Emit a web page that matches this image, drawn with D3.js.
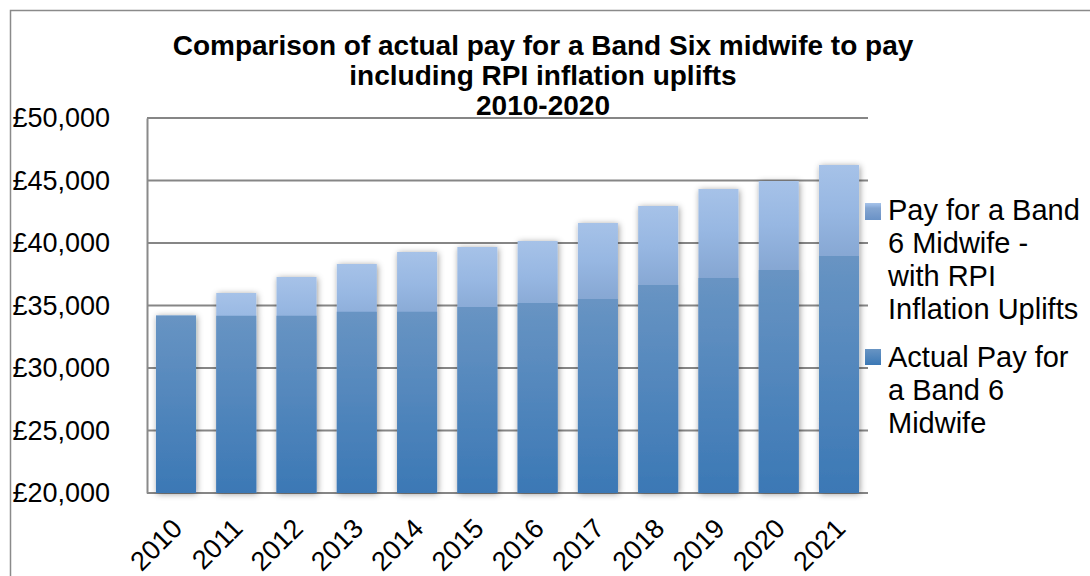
<!DOCTYPE html>
<html><head><meta charset="utf-8">
<script src="https://cdn.jsdelivr.net/npm/d3@7"></script>
<style>
body{margin:0;background:#fff;}
text{font-family:"Liberation Sans",Arial,sans-serif;fill:#000;}
</style></head>
<body><svg id="c" width="1090" height="576"></svg>
<script>
const years = ["2010","2011","2012","2013","2014","2015","2016","2017","2018","2019","2020","2021"];
const rpiPay = [34200,36000,37280,38320,39280,39680,40160,41600,42960,44320,44960,46240];
const actualPay = [34200,34180,34180,34500,34500,34880,35200,35520,36640,37200,37840,38960];
const yTicks = [20000,25000,30000,35000,40000,45000,50000];
const titleLines = ["Comparison of actual pay for a Band Six midwife to pay","including RPI inflation uplifts","2010-2020"];
const legendRpi = ["Pay for a Band","6 Midwife -","with RPI","Inflation Uplifts"];
const legendActual = ["Actual Pay for","a Band 6","Midwife"];

const svg = d3.select("#c");
const defs = svg.append("defs");
const gL = defs.append("linearGradient").attr("id","gLight").attr("x1",0).attr("y1",0).attr("x2",0).attr("y2",1);
gL.append("stop").attr("offset",0).attr("stop-color","#a6c2e8");
gL.append("stop").attr("offset",0.14).attr("stop-color","#97b7e2");
gL.append("stop").attr("offset",0.3).attr("stop-color","#84a5d1");
gL.append("stop").attr("offset",1).attr("stop-color","#6a92c6");
const gD = defs.append("linearGradient").attr("id","gDark").attr("x1",0).attr("y1",0).attr("x2",0).attr("y2",1);
gD.append("stop").attr("offset",0).attr("stop-color","#6894c3");
gD.append("stop").attr("offset",1).attr("stop-color","#3b78b5");
const f = defs.append("filter").attr("id","sh").attr("x","-30%").attr("y","-10%").attr("width","160%").attr("height","120%");
f.append("feDropShadow").attr("dx",1).attr("dy",1).attr("stdDeviation",3).attr("flood-color","#000").attr("flood-opacity",0.4);

// outer border
svg.append("path").attr("d","M10.5,576 V10.5 H1090").attr("fill","none").attr("stroke","#8a8a8a").attr("stroke-width",1.5);

const x = d3.scaleBand().domain(years).range([147,868]).paddingInner(0.336).paddingOuter(0.149);
const y = d3.scaleLinear().domain([20000,50000]).range([493,118]);

// gridlines
svg.append("g").selectAll("line").data(yTicks).join("line")
  .attr("x1",147).attr("x2",868).attr("y1",d=>y(d)).attr("y2",d=>y(d))
  .attr("stroke","#868686").attr("stroke-width",2);

// y axis
const yAxis = d3.axisLeft(y).tickValues(yTicks).tickSize(0).tickPadding(37)
  .tickFormat(d=>"£"+d3.format(",")(d));
const ga = svg.append("g").attr("transform","translate(147,0)").call(yAxis);
ga.select(".domain").attr("stroke","#8a8a8a").attr("stroke-width",2);
ga.selectAll("text").attr("font-size",27).attr("font-family",'"Liberation Sans",Arial,sans-serif').attr("fill","#000");

// bars
const bars = svg.append("g").attr("filter","url(#sh)");
bars.selectAll("rect.rpi").data(years).join("rect").attr("class","rpi")
  .attr("x",d=>x(d)).attr("width",x.bandwidth())
  .attr("y",(d,i)=>y(rpiPay[i])).attr("height",(d,i)=>y(20000)-y(rpiPay[i]))
  .attr("fill","url(#gLight)");
bars.selectAll("rect.act").data(years).join("rect").attr("class","act")
  .attr("x",d=>x(d)).attr("width",x.bandwidth())
  .attr("y",(d,i)=>y(actualPay[i])).attr("height",(d,i)=>y(20000)-y(actualPay[i]))
  .attr("fill","url(#gDark)");

// x labels
svg.append("g").selectAll("text").data(years).join("text")
  .attr("transform",d=>`translate(${x(d)+x.bandwidth()/2+8},530) rotate(-45)`)
  .attr("text-anchor","end").attr("font-size",27).text(d=>d);

// title
svg.append("g").selectAll("text").data(titleLines).join("text")
  .attr("x",543).attr("y",(d,i)=>55+i*30).attr("text-anchor","middle")
  .attr("font-size",28).attr("font-weight","bold").text(d=>d);

// legend
svg.append("rect").attr("x",865).attr("y",203).attr("width",16).attr("height",17).attr("fill","url(#gLight)");
svg.append("rect").attr("x",865).attr("y",349).attr("width",16).attr("height",16).attr("fill","url(#gDark)");
svg.append("g").selectAll("text").data(legendRpi).join("text")
  .attr("x",888).attr("y",(d,i)=>220+i*33).attr("font-size",29).text(d=>d);
svg.append("g").selectAll("text").data(legendActual).join("text")
  .attr("x",888).attr("y",(d,i)=>367+i*33).attr("font-size",29).text(d=>d);
</script></body></html>
